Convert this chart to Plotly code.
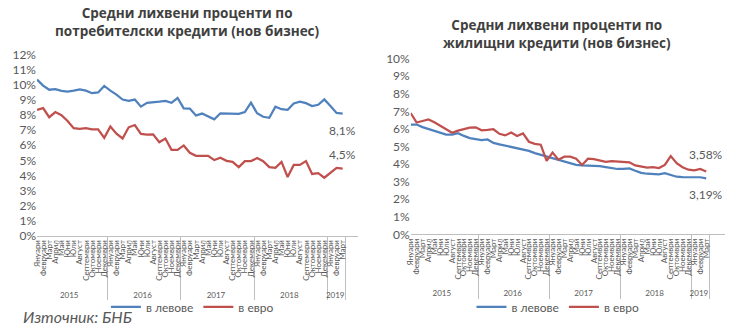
import plotly.graph_objects as go

month_names = ["Януари", "Февруари", "Март", "Април", "Май", "Юни", "Юли",
               "Август", "Септември", "Октомври", "Ноември", "Декември"]
year_names = ["2015", "2016", "2017", "2018", "2019"]
months_in_year = [12, 12, 12, 12, 3]

cons_bgn = [10.35, 9.95, 9.68, 9.72, 9.6, 9.55, 9.62, 9.7, 9.62, 9.45, 9.5, 9.93,
            9.62, 9.36, 9.03, 8.94, 9.03, 8.56, 8.81, 8.87, 8.89, 8.94, 8.81, 9.13,
            8.45, 8.43, 7.97, 8.1, 7.93, 7.72, 8.12, 8.12, 8.12, 8.08, 8.2, 8.83,
            8.12, 7.89, 7.82, 8.56, 8.39, 8.35, 8.77, 8.89, 8.79, 8.6, 8.68, 9.04,
            8.6, 8.14, 8.1]
cons_eur = [8.35, 8.46, 7.86, 8.2, 7.99, 7.61, 7.13, 7.08, 7.13, 7.06, 7.06, 6.49,
            7.25, 6.77, 6.45, 7.19, 7.34, 6.75, 6.7, 6.72, 6.2, 6.45, 5.7, 5.7,
            5.99, 5.5, 5.3, 5.3, 5.3, 5.02, 5.18, 4.97, 4.9, 4.55, 4.95, 4.95,
            5.15, 4.95, 4.55, 4.5, 4.9, 3.9, 4.7, 4.7, 4.95, 4.1, 4.15, 3.85,
            4.2, 4.5, 4.45]
mort_bgn = [6.25, 6.25, 6.1, 6.0, 5.92, 5.8, 5.68, 5.68, 5.76, 5.6, 5.48, 5.42,
            5.36, 5.4, 5.2, 5.12, 5.05, 4.98, 4.9, 4.83, 4.75, 4.62, 4.52, 4.42,
            4.36, 4.25, 4.14, 4.05, 3.96, 3.92, 3.91, 3.9, 3.88, 3.83, 3.78, 3.72,
            3.73, 3.75, 3.62, 3.5, 3.45, 3.42, 3.42, 3.48, 3.36, 3.28, 3.26, 3.27,
            3.27, 3.25, 3.19]
mort_eur = [6.9, 6.36, 6.45, 6.54, 6.38, 6.18, 5.95, 5.78, 5.9, 6.0, 6.07, 6.09,
            5.92, 5.94, 5.98, 5.72, 5.63, 5.8, 5.6, 5.74, 5.27, 5.15, 5.1, 4.18,
            4.65, 4.25, 4.42, 4.42, 4.3, 3.95, 4.31, 4.28, 4.18, 4.12, 4.16, 4.14,
            4.12, 4.1, 3.92, 3.85, 3.8, 3.82, 3.77, 3.95, 4.45, 4.05, 3.82, 3.68,
            3.64, 3.72, 3.58]

end_labels = {"cons_bgn": "8,1%", "cons_eur": "4,5%", "mort_bgn": "3,19%", "mort_eur": "3,58%"}
series_names = ["в левове", "в евро"]
titles = ["Средни лихвени проценти по<br>потребителски кредити (нов бизнес)",
          "Средни лихвени проценти по<br>жилищни кредити (нов бизнес)"]
source_text = "Източник: БНБ"

BLUE = "#4F81BD"
RED = "#C0504D"
FONT = "Lato"
GREY = "#595959"

x_years = [y for y, n in zip(year_names, months_in_year) for _ in range(n)]
x_months = [month_names[k] for n in months_in_year for k in range(n)]
xcat = [x_years, x_months]

fig = go.Figure()

specs = [
    (cons_bgn, series_names[0], BLUE, "x", "y", "legend", "cons_bgn", -17),
    (cons_eur, series_names[1], RED, "x", "y", "legend", "cons_eur", 14),
    (mort_bgn, series_names[0], BLUE, "x2", "y2", "legend2", "mort_bgn", -16),
    (mort_eur, series_names[1], RED, "x2", "y2", "legend2", "mort_eur", 17),
]
for vals, name, color, xa, ya, lg, key, ysh in specs:
    fig.add_trace(go.Scatter(
        x=xcat, y=vals, name=name, mode="lines",
        line=dict(color=color, width=2.25),
        xaxis=xa, yaxis=ya, legend=lg, hoverinfo="skip",
    ))
    fig.add_annotation(x=len(vals) - 1, y=vals[-1], xref=xa, yref=ya,
                       text=end_labels[key], showarrow=False, yshift=ysh,
                       xanchor="center", yanchor="middle",
                       font=dict(family=FONT, size=12, color=GREY))

xcommon = dict(type="multicategory", showgrid=False, showline=True,
               linecolor="#BFBFBF", linewidth=1, ticks="", dtick=1,
               tickangle=-90, tickfont=dict(family=FONT, size=8, color=GREY),
               showdividers=True, dividercolor="#BFBFBF", dividerwidth=1)
ycommon = dict(showgrid=False, zeroline=False, showline=False, ticksuffix="%",
               tickfont=dict(family=FONT, size=12, color=GREY), dtick=1)

legcommon = dict(orientation="h", xanchor="center", y=0.066, yanchor="middle",
                 font=dict(family=FONT, size=12, color=GREY), bgcolor="rgba(0,0,0,0)",
                 itemwidth=30)

fig.update_layout(
    width=740, height=335,
    margin=dict(l=0, r=0, t=0, b=0),
    paper_bgcolor="white", plot_bgcolor="white",
    xaxis=dict(domain=[0.05, 0.484], anchor="y", **xcommon),
    yaxis=dict(domain=[0.288, 0.854], range=[0, 12], anchor="x", **ycommon),
    xaxis2=dict(domain=[0.555, 0.98], anchor="y2", **xcommon),
    yaxis2=dict(domain=[0.2925, 0.842], range=[0, 10], anchor="x2", **ycommon),
    legend=dict(x=0.26, **legcommon),
    legend2=dict(x=0.754, **legcommon),
    showlegend=True,
)

fig.add_annotation(text="<b>" + titles[0] + "</b>", xref="paper", yref="paper",
                   x=0.253, y=1.018, xanchor="center", yanchor="top", showarrow=False,
                   font=dict(family="Open Sans", size=13.5, color="#404040"))
fig.add_annotation(text="<b>" + titles[1] + "</b>", xref="paper", yref="paper",
                   x=0.753, y=0.982, xanchor="center", yanchor="top", showarrow=False,
                   font=dict(family="Open Sans", size=13.5, color="#404040"))
fig.add_annotation(text="<i>" + source_text + "</i>", xref="paper", yref="paper",
                   x=0.028, y=0.035, xanchor="left", yanchor="middle", showarrow=False,
                   font=dict(family=FONT, size=16, color=GREY))

fig.write_html("out.html")
